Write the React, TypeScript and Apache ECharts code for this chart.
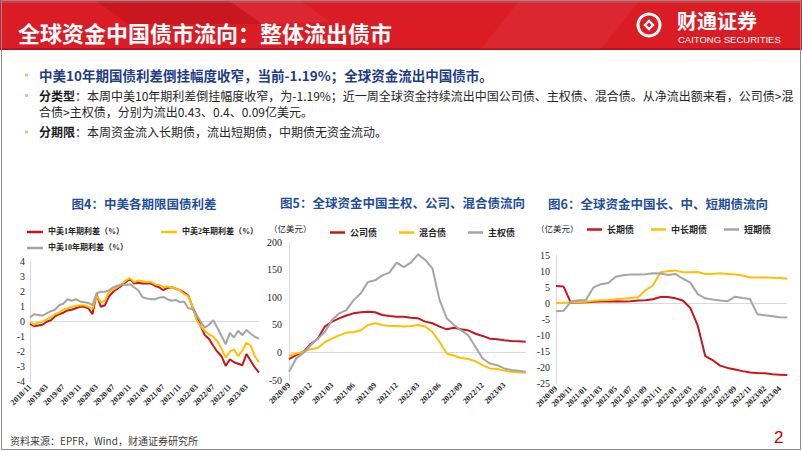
import React, { useEffect, useRef } from "react";
import * as echarts from "echarts";

// ---------- Chart 4: China-US yield spreads (%) ----------
const cat1 = [
  "2018/11", "2018/12", "2019/01", "2019/02", "2019/03", "2019/04", "2019/05", "2019/06", "2019/07", "2019/08",
  "2019/09", "2019/10", "2019/11", "2019/12", "2020/01", "2020/02", "2020/03", "2020/04", "2020/05", "2020/06",
  "2020/07", "2020/08", "2020/09", "2020/10", "2020/11", "2020/12", "2021/01", "2021/02", "2021/03", "2021/04",
  "2021/05", "2021/06", "2021/07", "2021/08", "2021/09", "2021/10", "2021/11", "2021/12", "2022/01", "2022/02",
  "2022/03", "2022/04", "2022/05", "2022/06", "2022/07", "2022/08", "2022/09", "2022/10", "2022/11", "2022/12",
  "2023/01", "2023/02", "2023/03", "2023/04", "2023/05", "2023/06",
];
const spread1y = [
  -0.15, -0.3, -0.25, -0.2, 0.0, 0.1, 0.35, 0.5, 0.6, 0.75,
  0.8, 0.9, 1.0, 1.0, 0.9, 0.5, 1.85, 1.0, 1.1, 1.7,
  2.0, 2.2, 2.4, 2.65, 2.85, 2.55, 2.6, 2.55, 2.55, 2.55,
  2.4, 2.3, 2.1, 2.25, 2.3, 2.2, 2.1, 1.95, 1.75, 1.0,
  0.4, -0.3, -0.9, -1.15, -1.6, -2.0, -2.3, -2.95, -2.5, -2.7,
  -2.8, -2.9, -2.15, -2.6, -3.05, -3.4,
];
const spread2y = [
  0.0, -0.2, -0.05, 0.0, 0.15, 0.3, 0.5, 0.6, 0.8, 0.9,
  1.0, 1.05, 1.1, 1.1, 1.0, 0.85, 1.75, 1.3, 1.4, 2.0,
  2.15, 2.3, 2.5, 2.75, 2.9, 2.65, 2.75, 2.7, 2.65, 2.65,
  2.5, 2.45, 2.3, 2.35, 2.3, 2.2, 2.1, 1.85, 1.7, 1.0,
  0.1, -0.3, -0.6, -0.85, -1.0, -1.3, -1.8, -2.4, -2.0, -1.85,
  -2.3, -1.9, -1.4, -1.6, -2.3, -2.7,
];
const spread10y = [
  0.3, 0.5, 0.45, 0.4, 0.55, 0.7, 0.8, 1.1, 1.2, 1.5,
  1.4, 1.5, 1.35, 1.3, 1.25, 1.1, 1.9, 2.0, 2.0, 2.1,
  2.3, 2.4, 2.5, 2.45, 2.5, 2.3, 2.1, 1.65, 1.55, 1.5,
  1.5, 1.6, 1.65, 1.5, 1.4, 1.45, 1.3, 1.35, 0.9, 0.85,
  0.45, 0.0, -0.4, -0.2, 0.1, -0.4, -0.95, -1.5, -0.75, -1.05,
  -0.6, -0.9, -0.55, -0.8, -1.0, -1.15,
];

// ---------- Chart 5: sovereign / corporate / hybrid flows (亿美元) ----------
const cat2 = [
  "2020/09", "2020/10", "2020/11", "2020/12", "2021/01", "2021/02", "2021/03", "2021/04", "2021/05", "2021/06",
  "2021/07", "2021/08", "2021/09", "2021/10", "2021/11", "2021/12", "2022/01", "2022/02", "2022/03", "2022/04",
  "2022/05", "2022/06", "2022/07", "2022/08", "2022/09", "2022/10", "2022/11", "2022/12", "2023/01", "2023/02",
  "2023/03", "2023/04", "2023/05", "2023/06",
];
const corpFlow = [
  -12, -5, 1, 15, 25, 47, 56, 62, 67, 71,
  73, 74, 73, 68, 66, 65, 65, 63, 62, 56,
  53, 47, 42, 45, 42, 40, 34, 30, 25, 24,
  22, 21, 20.5, 19.5,
];
const hybridFlow = [
  -6, -2, 1, 6, 8, 19, 25, 31, 36, 37,
  40, 50, 53, 50, 48, 48, 47, 48, 50, 47,
  37, 19, -2, -6, -10, -12, -16, -23, -29, -30,
  -33, -35, -36, -37,
];
const sovFlow = [
  -35, -11, -1, 13, 25, 37, 59, 71, 77, 95,
  107, 128, 131, 140, 145, 163, 155, 163, 178, 168,
  152, 95, 62, 50, 40, 31, 10, -11, -20, -23,
  -29, -32, -33, -35,
];

// ---------- Chart 6: long / mid-long / short flows (亿美元) ----------
const cat3 = [
  "2020/09", "2020/10", "2020/11", "2020/12", "2021/01", "2021/02", "2021/03", "2021/04", "2021/05", "2021/06",
  "2021/07", "2021/08", "2021/09", "2021/10", "2021/11", "2021/12", "2022/01", "2022/02", "2022/03", "2022/04",
  "2022/05", "2022/06", "2022/07", "2022/08", "2022/09", "2022/10", "2022/11", "2023/01", "2023/02", "2023/03",
  "2023/04", "2023/05",
];
const longFlow = [
  5.3, 5.2, 0.1, 0.2, 0.3, 0.4, 0.5, 0.5, 0.6, 0.5,
  0.6, 0.8, 0.9, 1.2, 1.9, 1.9, 1.5, 0.8, -1.5, -7,
  -16.5, -17.8, -19.5, -20.2, -20.7, -21.2, -21.6, -21.8, -21.9, -22.2,
  -22.3, -22.4,
];
const midFlow = [
  0, 0.1, 0.2, 0.3, 0.4, 0.7, 0.9, 1.0, 1.2, 1.4,
  1.6, 1.8, 4.0, 5.5, 9.6, 9.9, 10.2, 9.6, 9.6, 9.7,
  9.1, 9.1, 9.3, 9.1, 8.9, 8.6, 8.0, 8.0, 8.0, 7.9,
  7.8, 7.6,
];
const shortFlow = [
  -2.5, -2.4, 0.5, 0.9, 1.0, 4.8, 5.9, 6.3, 8.2, 8.7,
  8.9, 8.9, 9.0, 9.3, 9.2, 8.8, 9.1, 7.6, 6.4, 2.8,
  1.5, 1.1, 0.8, 0.6, 2.0, 1.6, 1.3, -3.5, -3.8, -4.1,
  -4.4, -4.5,
];

// ---------- Texts ----------
const pageTitle = "全球资金中国债市流向：整体流出债市";
const bullet1 = "中美10年期国债利差倒挂幅度收窄，当前-1.19%；全球资金流出中国债市。";
const bullet2Head = "分类型";
const bullet2a = "：本周中美10年期利差倒挂幅度收窄，为-1.19%；近一周全球资金持续流出中国公司债、主权债、混合债。从净流出额来看，公司债>混";
const bullet2b = "合债>主权债，分别为流出0.43、0.4、0.09亿美元。";
const bullet3Head = "分期限";
const bullet3 = "：本周资金流入长期债，流出短期债，中期债无资金流动。";
const chartTitles = ["图4：中美各期限国债利差", "图5：全球资金中国主权、公司、混合债流向", "图6：全球资金中国长、中、短期债流向"];
const sourceNote = "资料来源：EPFR，Wind，财通证券研究所";
const unitLabel = "（亿美元）";

const RED = "#c8161e";
const YELLOW = "#ffc000";
const GRAY = "#a5a5a5";
const CJK = '"Noto Sans CJK SC", sans-serif';
const SERIF = '"Liberation Serif", "Noto Sans CJK SC", serif';

function xAxisFor(gridIndex: number, data: string[], every: number, last: number) {
  return {
    type: "category",
    gridIndex,
    data,
    boundaryGap: false,
    axisLine: { show: false },
    axisTick: { show: false },
    splitLine: { show: false },
    axisLabel: {
      rotate: 45,
      fontSize: 8,
      fontWeight: "bold",
      fontFamily: SERIF,
      color: "#262626",
      margin: 4,
      interval: (i: number) => i % every === 0 && i <= last,
    },
  };
}

function yAxisFor(gridIndex: number, min: number, max: number, interval: number, margin: number) {
  return {
    type: "value",
    gridIndex,
    min,
    max,
    interval,
    axisLine: { show: true, lineStyle: { color: "#d9d9d9", width: 1 } },
    axisTick: { show: false },
    splitLine: { show: false },
    axisLabel: { fontSize: 10, fontFamily: SERIF, color: "#262626", margin },
  };
}

function lineSeries(name: string, idx: number, data: number[], color: string, zero: boolean) {
  const s: any = {
    name,
    type: "line",
    xAxisIndex: idx,
    yAxisIndex: idx,
    data,
    symbol: "none",
    showSymbol: false,
    lineStyle: { width: 2, color },
    itemStyle: { color },
  };
  if (zero) {
    s.markLine = {
      silent: true,
      z: 1,
      symbol: ["none", "none"],
      label: { show: false },
      lineStyle: { color: "#d9d9d9", width: 1, type: "solid" },
      data: [{ yAxis: 0 }],
    };
  }
  return s;
}

function txt(x: number, y: number, text: string, size: number, color: string, weight = "normal", align = "left", family = CJK) {
  return {
    type: "text",
    x,
    y,
    silent: true,
    style: {
      text,
      fill: color,
      fontSize: size,
      fontWeight: weight,
      fontFamily: family,
      textAlign: align,
      textVerticalAlign: "middle",
    },
  };
}

const legendText = { fontSize: 8, fontFamily: SERIF, color: "#262626", fontWeight: "bold" };

export default function App() {
  const ref = useRef<HTMLDivElement>(null);
  useEffect(() => {
    if (!ref.current) return;
    const chart = echarts.init(ref.current, undefined, { renderer: "svg" });
    const option: any = {
      animation: false,
      backgroundColor: "#ffffff",
      grid: [
        { left: 30, top: 261.7, width: 229, height: 120, containLabel: false, outerBoundsMode: "none" },
        { left: 289, top: 242.3, width: 236.7, height: 137.7, containLabel: false, outerBoundsMode: "none" },
        { left: 556, top: 255, width: 231.3, height: 128.3, containLabel: false, outerBoundsMode: "none" },
      ],
      xAxis: [xAxisFor(0, cat1, 4, 52), xAxisFor(1, cat2, 3, 30), xAxisFor(2, cat3, 2, 30)],
      yAxis: [yAxisFor(0, -4, 4, 1, 5), yAxisFor(1, -50, 200, 50, 7), yAxisFor(2, -25, 15, 5, 6)],
      legend: [
        {
          data: ["中美1年期利差（%）", "中美2年期利差（%）"],
          left: 27, top: 228, padding: 0, itemGap: 37, itemWidth: 16, itemHeight: 2.5,
          icon: "rect", textStyle: legendText,
        },
        {
          data: ["中美10年期利差（%）"],
          left: 27, top: 244, padding: 0, itemWidth: 16, itemHeight: 2.5,
          icon: "rect", textStyle: legendText,
        },
        {
          data: ["公司债", "混合债", "主权债"],
          left: 330, top: 228, padding: 0, itemGap: 22, itemWidth: 15, itemHeight: 2.5,
          icon: "rect", textStyle: { ...legendText, fontSize: 9 },
        },
        {
          data: ["长期债", "中长期债", "短期债"],
          left: 587, top: 225, padding: 0, itemGap: 17, itemWidth: 15, itemHeight: 2.5,
          icon: "rect", textStyle: { ...legendText, fontSize: 9 },
        },
      ],
      series: [
        lineSeries("中美1年期利差（%）", 0, spread1y, RED, true),
        lineSeries("中美2年期利差（%）", 0, spread2y, YELLOW, false),
        lineSeries("中美10年期利差（%）", 0, spread10y, GRAY, false),
        lineSeries("公司债", 1, corpFlow, RED, true),
        lineSeries("混合债", 1, hybridFlow, YELLOW, false),
        lineSeries("主权债", 1, sovFlow, GRAY, false),
        lineSeries("长期债", 2, longFlow, RED, true),
        lineSeries("中长期债", 2, midFlow, YELLOW, false),
        lineSeries("短期债", 2, shortFlow, GRAY, false),
      ],
      graphic: [
        // header band
        { type: "rect", shape: { x: 0, y: 0, width: 802, height: 50 }, style: { fill: "#da1c25" }, silent: true },
        { type: "polygon", shape: { points: [[95, 0], [228, 0], [262, 24], [128, 24]] }, style: { fill: "rgba(110,0,0,0.16)" }, silent: true },
        { type: "polygon", shape: { points: [[228, 0], [300, 0], [330, 22], [262, 24]] }, style: { fill: "rgba(255,255,255,0.05)" }, silent: true },
        { type: "polygon", shape: { points: [[520, 0], [640, 0], [600, 50], [480, 50]] }, style: { fill: "rgba(255,255,255,0.05)" }, silent: true },
        { type: "rect", shape: { x: 0, y: 0, width: 802, height: 3 }, style: { fill: "rgba(255,255,255,0.12)" }, silent: true },
        { type: "rect", shape: { x: 0, y: 48.5, width: 802, height: 1.5 }, style: { fill: "#a80f17" }, silent: true },
        txt(18, 32, pageTitle, 22, "#ffffff", "bold"),
        // logo
        { type: "ring", shape: { cx: 649, cy: 25, r: 12.5, r0: 9.5 }, style: { fill: "#ffffff" }, silent: true },
        { type: "rect", x: 649, y: 25, rotation: Math.PI / 4, shape: { x: -4, y: -4, width: 8, height: 8 }, style: { fill: "#ffffff" }, silent: true },
        { type: "rect", x: 649, y: 25, rotation: Math.PI / 4, shape: { x: -1.8, y: -1.8, width: 3.6, height: 3.6 }, style: { fill: "#da1c25" }, silent: true },
        txt(677, 20, "财通证券", 20, "#ffffff", "bold"),
        txt(678, 39, "CAITONG SECURITIES", 9.5, "#ffffff", "normal", "left", '"Liberation Sans", sans-serif'),
        // bullets
        { type: "rect", shape: { x: 25, y: 73.5, width: 3, height: 3 }, style: { fill: "#e6c29a" }, silent: true },
        { type: "rect", shape: { x: 25, y: 94, width: 3, height: 3 }, style: { fill: "#e6c29a" }, silent: true },
        { type: "rect", shape: { x: 25, y: 130.5, width: 3, height: 3 }, style: { fill: "#e6c29a" }, silent: true },
        txt(39, 75.3, bullet1, 13.5, "#1f3c88", "bold"),
        txt(39, 95.5, bullet2Head, 12, "#1a1a1a", "bold"),
        txt(75, 95.5, bullet2a, 12, "#262626"),
        txt(39, 111, bullet2b, 12, "#262626"),
        txt(39, 131.7, bullet3Head, 12, "#1a1a1a", "bold"),
        txt(75, 131.7, bullet3, 12, "#262626"),
        // chart titles
        txt(144, 203.5, chartTitles[0], 12.5, "#1f4e9a", "bold", "center"),
        txt(402.5, 202.5, chartTitles[1], 12.5, "#1f4e9a", "bold", "center"),
        txt(658, 203.5, chartTitles[2], 12.5, "#1f4e9a", "bold", "center"),
        // units
        txt(269, 228.5, unitLabel, 8.5, "#262626", "normal", "left", SERIF),
        txt(536, 228.5, unitLabel, 8.5, "#262626", "normal", "left", SERIF),
        // footer
        txt(10, 440, sourceNote, 10, "#404040"),
        txt(774, 437, "2", 17, "#c00000", "normal", "left", '"Liberation Sans", sans-serif'),
        // page frame
        { type: "rect", shape: { x: 1.5, y: 0.5, width: 799, height: 449 }, style: { fill: "none", stroke: "#8c8c8c", lineWidth: 1 }, silent: true },
      ],
    };
    chart.setOption(option);
    return () => chart.dispose();
  }, []);
  return (
    <div
      ref={ref}
      style={{ position: "fixed", left: 0, top: 0, width: 802, height: 451, background: "#fff" }}
    />
  );
}
